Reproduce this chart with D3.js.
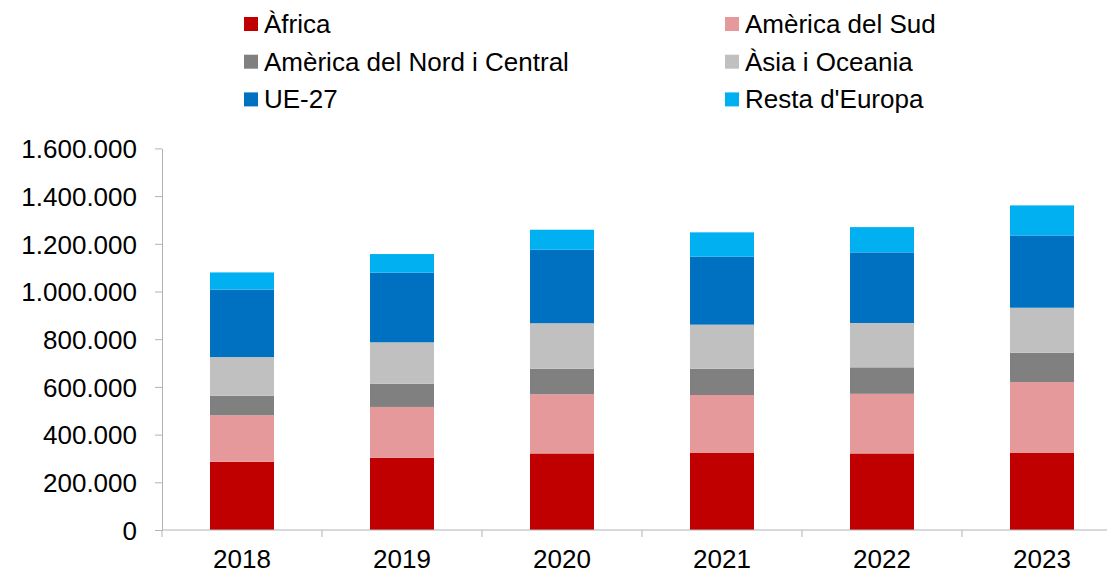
<!DOCTYPE html>
<html>
<head>
<meta charset="utf-8">
<script src="https://cdn.jsdelivr.net/npm/d3@7"></script>
<style>
    body { margin: 0; background: #fff; }
    svg text { font-family: "Liberation Sans", Arial, sans-serif; fill: #000; }
</style>
</head>
<body>
<svg id="chart"></svg>
<script>
// years on the x axis
const years = ["2018", "2019", "2020", "2021", "2022", "2023"];

// series (people)
const africa      = [286000, 303000, 321000, 323000, 321000, 323000];
const southAm     = [195000, 213000, 248000, 243000, 250000, 297000];
const northCentAm = [82000, 97000, 107000, 110000, 111000, 123000];
const asiaOceania = [162000, 174000, 191000, 185000, 186000, 189000];
const eu27        = [283000, 292000, 308000, 285000, 296000, 303000];
const restEurope  = [72000, 78000, 84000, 102000, 106000, 126000];

const seriesNames = ["Àfrica", "Amèrica del Sud", "Amèrica del Nord i Central",
                     "Àsia i Oceania", "UE-27", "Resta d'Europa"];
const seriesValues = [africa, southAm, northCentAm, asiaOceania, eu27, restEurope];
const seriesColors = ["#C00000", "#E6999A", "#808080", "#C0C0C0", "#0070C0", "#00B0F0"];

const yTicks = [0, 200000, 400000, 600000, 800000, 1000000, 1200000, 1400000, 1600000];

const width = 1107, height = 573;
const margin = { top: 148.4, right: -15, bottom: 43, left: 162 };
const fontSize = "26px";

const svg = d3.select("#chart")
    .attr("width", width)
    .attr("height", height);

// rows for d3.stack
const rows = years.map((y, i) => {
    const row = { year: y };
    seriesNames.forEach((n, k) => row[n] = seriesValues[k][i]);
    return row;
});
const stacked = d3.stack().keys(seriesNames)(rows);

const x = d3.scaleBand()
    .domain(years)
    .range([margin.left, width - margin.right])
    .paddingInner(0.6)
    .paddingOuter(0.3);

const y = d3.scaleLinear()
    .domain([0, 1600000])
    .range([height - margin.bottom, margin.top]);

const color = d3.scaleOrdinal().domain(seriesNames).range(seriesColors);

// bars
svg.append("g")
    .selectAll("g")
    .data(stacked)
    .join("g")
    .attr("fill", d => color(d.key))
    .selectAll("rect")
    .data(d => d)
    .join("rect")
    .attr("x", d => x(d.data.year))
    .attr("y", d => y(d[1]))
    .attr("width", x.bandwidth())
    .attr("height", d => y(d[0]) - y(d[1]));

// y axis
const fmt = v => d3.format(",")(v).replace(/,/g, ".");
const yAxis = svg.append("g")
    .attr("transform", `translate(${margin.left},0)`)
    .call(d3.axisLeft(y).tickValues(yTicks).tickFormat(fmt).tickSize(7).tickPadding(18).tickSizeOuter(0));
yAxis.select(".domain").attr("stroke", "#b3b3b3");
yAxis.selectAll(".tick line").attr("stroke", "#b3b3b3");
yAxis.selectAll(".tick text").style("font-size", fontSize).attr("dy", "0.36em");

// x axis: ticks between categories
const xAxis = svg.append("g")
    .attr("transform", `translate(0,${y(0)})`);
xAxis.append("line")
    .attr("x1", margin.left).attr("x2", width)
    .attr("stroke", "#b3b3b3");
const step = x.step();
const boundaries = years.map(yr => x(yr) - step * x.paddingInner() / 2);
xAxis.selectAll(".sep")
    .data(boundaries)
    .join("line")
    .attr("class", "sep")
    .attr("x1", d => d).attr("x2", d => d)
    .attr("y1", 0).attr("y2", 7)
    .attr("stroke", "#b3b3b3");
xAxis.selectAll(".lbl")
    .data(years)
    .join("text")
    .attr("class", "lbl")
    .attr("x", d => x(d) + x.bandwidth() / 2)
    .attr("y", 37.5)
    .attr("text-anchor", "middle")
    .style("font-size", fontSize)
    .text(d => d);

// legend: two columns, three rows
const legendCols = [244, 725];
const legend = svg.append("g")
    .selectAll("g")
    .data(seriesNames)
    .join("g")
    .attr("transform", (d, i) => `translate(${legendCols[i % 2]},${24 + Math.floor(i / 2) * 37.7})`);
legend.append("rect")
    .attr("x", 0).attr("y", -7)
    .attr("width", 14).attr("height", 14)
    .attr("fill", d => color(d));
legend.append("text")
    .attr("x", 20).attr("y", 9)
    .style("font-size", fontSize)
    .text(d => d);
</script>
</body>
</html>
